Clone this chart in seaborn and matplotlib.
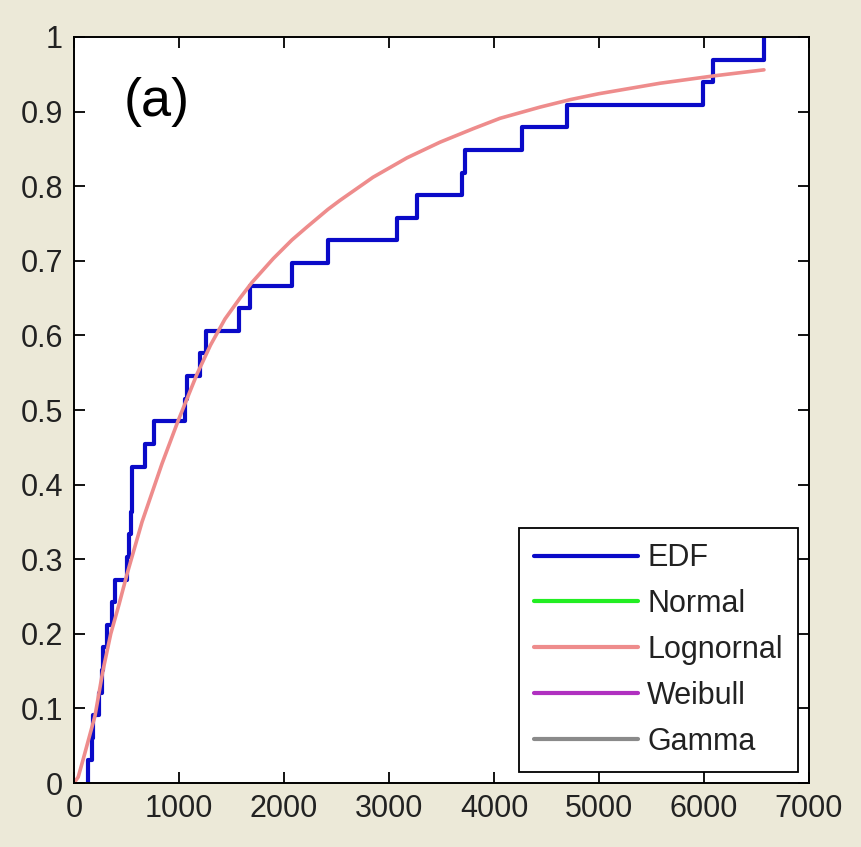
import matplotlib
matplotlib.use("Agg")
import matplotlib.pyplot as plt
from matplotlib.lines import Line2D
import seaborn as sns
import pandas as pd

# Empirical data points (33 observations) read from the EDF steps
edf_values = [133, 171, 183, 235, 267, 276, 314, 362, 390, 505, 524,
              545, 550, 555, 676, 762, 1057, 1076, 1200, 1257, 1571,
              1676, 2076, 2419, 3076, 3267, 3695, 3724, 4267, 4695,
              5990, 6086, 6571]

# Fitted lognormal CDF
logn_x = [0, 40, 86, 200, 276, 350, 430, 505, 648, 838, 990, 1171, 1300,
          1438, 1581, 1695, 1898, 2076, 2216, 2419, 2533, 2848, 3171,
          3486, 3800, 4057, 4438, 4724, 5000, 5581, 6100, 6571]
logn_y = [0.0, 0.008, 0.031, 0.09, 0.151, 0.20, 0.24, 0.28, 0.35, 0.428,
          0.485, 0.548, 0.587, 0.622, 0.65, 0.671, 0.703, 0.728, 0.745,
          0.769, 0.781, 0.812, 0.838, 0.859, 0.877, 0.891, 0.906, 0.916,
          0.924, 0.938, 0.948, 0.956]

legend_labels = ["EDF", "Normal", "Lognornal", "Weibull", "Gamma"]
legend_colors = ["#0a0ac8", "#22ee22", "#ee8c8c", "#b030c0", "#8a8a8a"]

x_ticks = [0, 1000, 2000, 3000, 4000, 5000, 6000, 7000]
y_ticks = [0, 0.1, 0.2, 0.3, 0.4, 0.5, 0.6, 0.7, 0.8, 0.9, 1]
y_ticklabels = ["0", "0.1", "0.2", "0.3", "0.4", "0.5", "0.6", "0.7", "0.8", "0.9", "1"]

sns.set_theme(style="ticks")
plt.rcParams["font.family"] = ["Liberation Sans", "DejaVu Sans"]

bg = "#ece9d8"
fig = plt.figure(figsize=(8.61, 8.47), dpi=100, facecolor=bg)
ax = fig.add_axes([74 / 861, 1 - 783 / 847, (809 - 74) / 861, (783 - 37) / 847])
ax.set_facecolor("white")

edf_df = pd.DataFrame({"value": edf_values})
sns.ecdfplot(data=edf_df, x="value", ax=ax, color=legend_colors[0], linewidth=3.0)

logn_df = pd.DataFrame({"x": logn_x, "y": logn_y})
sns.lineplot(data=logn_df, x="x", y="y", ax=ax, color=legend_colors[2],
             linewidth=2.6, sort=False, estimator=None)

ax.set_xlim(0, 7000)
ax.set_ylim(0, 1)
ax.set_xticks(x_ticks)
ax.set_xticklabels([str(t) for t in x_ticks])
ax.set_yticks(y_ticks)
ax.set_yticklabels(y_ticklabels)
ax.set_xlabel("")
ax.set_ylabel("")

for s in ax.spines.values():
    s.set_visible(True)
    s.set_color("black")
    s.set_linewidth(1.4)

ax.tick_params(axis="both", direction="in", length=8, width=1.3,
               top=True, right=True, labelsize=22, colors="black",
               labelcolor="#222222", pad=8)

ax.text(470, 0.913, "(a)", fontsize=39, ha="left", va="center", color="black")

handles = [Line2D([0], [0], color=c, linewidth=3.0) for c in legend_colors]
leg = ax.legend(handles, legend_labels, loc="lower right",
                bbox_to_anchor=(0.985, 0.0147), fontsize=22,
                handlelength=3.4, handletextpad=0.3, labelspacing=0.52,
                borderpad=0.5, borderaxespad=0.0, frameon=True,
                fancybox=False, framealpha=1.0)
leg.get_frame().set_edgecolor("black")
leg.get_frame().set_linewidth(1.3)
for t in leg.get_texts():
    t.set_color("#222222")

fig.savefig("out.png", dpi=100, facecolor=bg)
